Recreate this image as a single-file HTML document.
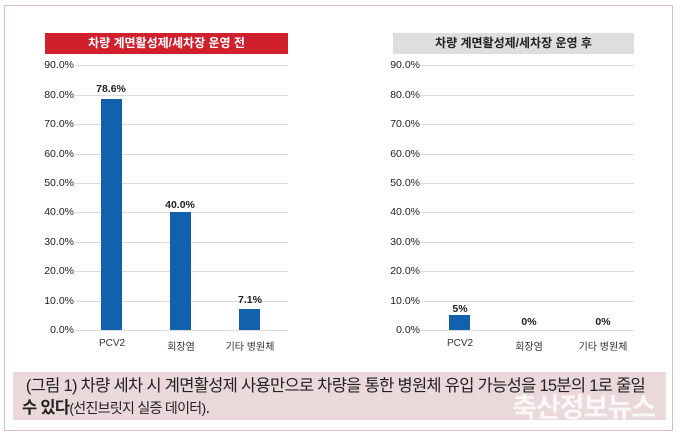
<!DOCTYPE html><html><head><meta charset="utf-8"><style>
body{margin:0;width:680px;height:435px;background:#fff;position:relative;overflow:hidden;font-family:"Liberation Sans","Noto Sans CJK KR",sans-serif}
.a{position:absolute}
.bd{left:4px;top:5px;width:667px;height:424px;border:1.5px solid #d8bcc0}
.t{height:21px;line-height:21px;text-align:center;font-size:12px;font-weight:bold}
.g{height:1px;background:#dcdcdc}
.y{font-size:10.5px;color:#222;width:42px;text-align:right}
.bar{background:#1361ac;width:21px}
.v{font-size:10.5px;font-weight:bold;color:#222;width:60px;text-align:center}
.c{font-size:10px;color:#333;width:80px;text-align:center}
</style></head><body>
<div class="a bd"></div>
<div class="a t" style="left:45px;top:33px;width:243px;background:#d0202e;color:#fff">차량 계면활성제/세차장 운영 전</div>
<div class="a t" style="left:393px;top:33px;width:241px;background:#dedede;color:#222">차량 계면활성제/세차장 운영 후</div>
<div id="axes"></div>
<script>
let h='';
[[75,288,32],[421,634,378]].forEach(([x0,x1,lx])=>{
for(let i=0;i<=9;i++){let y=330-i*29.4;h+=`<div class="a g" style="left:${x0}px;top:${y}px;width:${x1-x0}px"></div><div class="a y" style="left:${lx}px;top:${y-6}px">${i*10}.0%</div>`;}
});
document.getElementById('axes').innerHTML=h;
</script>
<div class="a bar" style="left:101px;top:99px;height:231px"></div>
<div class="a bar" style="left:170px;top:212px;height:118px"></div>
<div class="a bar" style="left:239px;top:309px;height:21px"></div>
<div class="a bar" style="left:449px;top:315px;height:15px"></div>
<div class="a v" style="left:81px;top:83px">78.6%</div>
<div class="a v" style="left:150px;top:199px">40.0%</div>
<div class="a v" style="left:220px;top:294px">7.1%</div>
<div class="a v" style="left:430px;top:303px">5%</div>
<div class="a v" style="left:499px;top:316px">0%</div>
<div class="a v" style="left:573px;top:316px">0%</div>
<div class="a c" style="left:72px;top:338px">PCV2</div>
<div class="a c" style="left:141px;top:338px">회장염</div>
<div class="a c" style="left:210px;top:338px">기타 병원체</div>
<div class="a c" style="left:420px;top:338px">PCV2</div>
<div class="a c" style="left:489px;top:338px">회장염</div>
<div class="a c" style="left:563px;top:338px">기타 병원체</div>
<div class="a" style="left:13px;top:372px;width:653px;height:48px;background:#ead8da"></div>
<div class="a" style="left:22px;top:375px;font-size:16.5px;color:#222;line-height:22px;letter-spacing:-0.7px;width:650px;white-space:nowrap">&nbsp;(그림 1) 차량 세차 시 계면활성제 사용만으로 차량을 통한 병원체 유입 가능성을 15분의 1로 줄일<br><b>수 있다</b><span style="font-size:14px">(선진브릿지 실증 데이터)</span>.</div>
<div class="a" style="left:512px;top:386px;font-size:27px;font-weight:bold;color:rgba(255,255,255,0.8);letter-spacing:-1px">축산정보뉴스</div>
</body></html>
